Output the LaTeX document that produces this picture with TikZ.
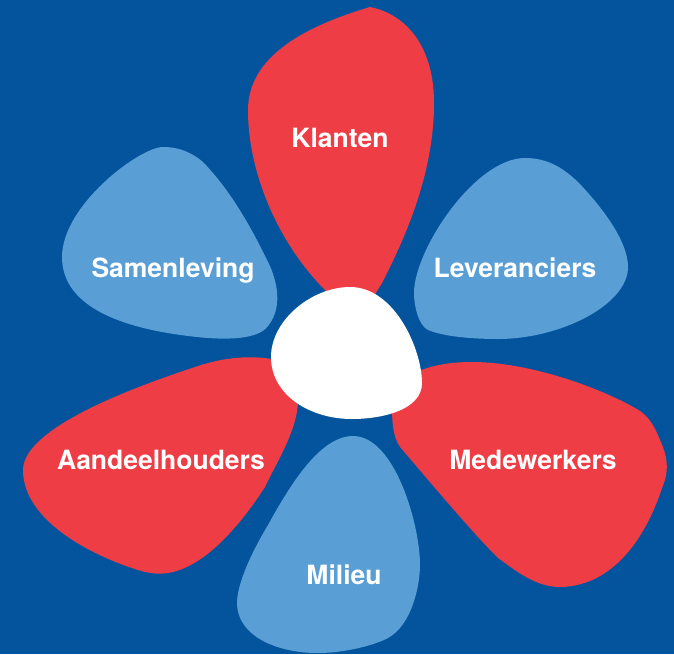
\documentclass[tikz,border=0pt]{standalone}
\usepackage{fontspec}
\setmainfont{TeX Gyre Heros}
\definecolor{bg}{HTML}{03549C}
\definecolor{petalred}{HTML}{EF3D46}
\definecolor{petalblue}{HTML}{599FD6}
\tikzset{
  redpetal/.style={fill=petalred},
  bluepetal/.style={fill=petalblue},
  lab/.style={text=white,font=\bfseries\fontsize{26.5}{30}\selectfont,inner sep=0pt,anchor=base}
}
\begin{document}
\begin{tikzpicture}[x=1pt,y=-1pt]
\fill[bg] (0,0) rectangle (674,654);
\useasboundingbox (0,0) rectangle (674,654);
% Klanten
\path[redpetal] (370,7) .. controls (405,14) and (434,45) .. (434,103)
  .. controls (434,165) and (412,225) .. (382,283) -- (362,315) -- (335,300) -- (325,290)
  .. controls (280,245) and (248,175) .. (248,110)
  .. controls (248,50) and (320,22) .. (370,7) -- cycle;
% Samenleving
\path[bluepetal] (163,147) .. controls (140,147) and (62,205) .. (62,257)
  .. controls (62,310) and (130,330) .. (197,337)
  .. controls (225,340) and (258,340) .. (268,326)
  .. controls (285,305) and (275,275) .. (267,260)
  .. controls (250,225) and (230,190) .. (203,162)
  .. controls (190,151) and (177,147) .. (163,147) -- cycle;
% Leveranciers
\path[bluepetal] (525,158) .. controls (550,158) and (565,170) .. (578,182)
  .. controls (600,205) and (628,240) .. (628,267)
  .. controls (628,305) and (560,339) .. (498,339)
  .. controls (475,339) and (445,337) .. (428,330)
  .. controls (418,325) and (414,305) .. (414,293)
  .. controls (414,250) and (475,158) .. (525,158) -- cycle;
% Medewerkers
\path[redpetal] (410,375) .. controls (430,365) and (450,362) .. (472,362)
  .. controls (530,362) and (600,388) .. (635,408)
  .. controls (650,416) and (655,428) .. (660,440)
  .. controls (667,455) and (670,470) .. (662,488)
  .. controls (650,525) and (620,586) .. (560,587)
  .. controls (535,587) and (515,570) .. (498,558)
  .. controls (470,530) and (430,482) .. (400,447)
  .. controls (392,435) and (392,420) .. (392,400) -- cycle;
% Aandeelhouders
\path[redpetal] (285,362) .. controls (260,355) and (230,355) .. (195,367)
  .. controls (150,382) and (23,425) .. (23,470)
  .. controls (23,520) and (90,555) .. (138,570)
  .. controls (148,573) and (155,574) .. (163,573.5)
  .. controls (205,571) and (245,518) .. (265,487)
  .. controls (275,465) and (298,430) .. (298,400) -- cycle;
% Milieu
\path[bluepetal] (353,436) .. controls (320,436) and (290,485) .. (268,525)
  .. controls (250,555) and (237,585) .. (237,603)
  .. controls (237,635) and (275,653) .. (318,653)
  .. controls (345,653) and (375,645) .. (388,638)
  .. controls (412,625) and (420,585) .. (420,565)
  .. controls (420,525) and (395,436) .. (353,436) -- cycle;
% centre
\fill[white] (350,287) .. controls (312,287) and (271,320) .. (271,357)
  .. controls (271,395) and (310,419) .. (352,419)
  .. controls (382,419) and (422,410) .. (422,383)
  .. controls (422,350) and (395,287) .. (350,287) -- cycle;
\node[lab] (klanten) at (340,147) {Klanten};
\node[lab] (samen) at (173,277) {Samenleving};
\node[lab] (lev) at (515,277) {Leveranciers};
\node[lab] (aandeel) at (161,469) {Aandeelhouders};
\node[lab] (mede) at (533,469) {Medewerkers};
\node[lab] (milieu) at (344,584) {Milieu};
\end{tikzpicture}
\end{document}
